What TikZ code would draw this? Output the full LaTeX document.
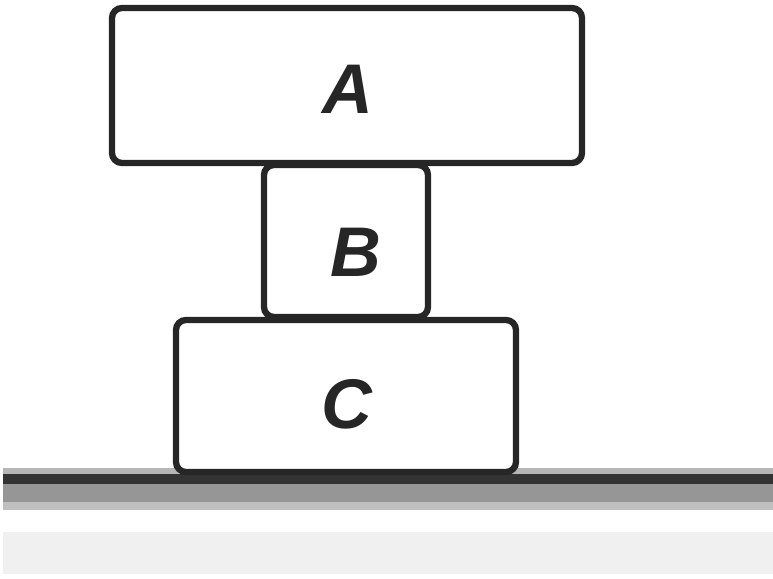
\documentclass[tikz,border=0pt]{standalone}
\usepackage{fontspec}
\setmainfont{Liberation Sans}
\usepackage{tikz}
\usetikzlibrary{positioning}
\definecolor{groundgray}{RGB}{150,150,150}
\definecolor{panelgray}{RGB}{240,240,240}

\tikzset{
  block/.style={draw=black!85, line width=3.6pt, rounded corners=0.2cm,
    fill=white, inner sep=0pt},
  letter/.style={inner sep=0pt, text=black!85,
    font=\fontsize{40}{44}\selectfont\bfseries\itshape},
}

\begin{document}
\begin{tikzpicture}
      \useasboundingbox (0,0) rectangle (15.46,11.58);

      % ground
      \fill[groundgray!60] (0.06,1.38) rectangle (15.46,1.84);
      \fill[groundgray] (0.06,1.54) rectangle (15.46,1.9);
      \fill[black!80] (0.06,1.9) rectangle (15.46,2.1);
      \fill[groundgray!70] (0.06,2.1) rectangle (15.46,2.22);
      \fill[panelgray] (0.06,0.1) rectangle (15.46,0.94);

      % blocks
      \node[block, minimum width=6.8cm, minimum height=3.04cm] (blockC) at (6.92,3.66) {};
      \node[block, minimum width=3.28cm, minimum height=3.04cm] (blockB) at (6.92,6.76) {};
      \node[block, minimum width=9.4cm, minimum height=3.1cm] (blockA) at (6.94,9.87) {};

      \node[letter] (labelA) at ([shift={(0.02,-0.07)}]blockA.center) {A};
      \node[letter] (labelB) at ([shift={(0.2,-0.22)}]blockB.center) {B};
      \node[letter] (labelC) at ([shift={(0.02,-0.16)}]blockC.center) {C};

    \end{tikzpicture}
\end{document}
